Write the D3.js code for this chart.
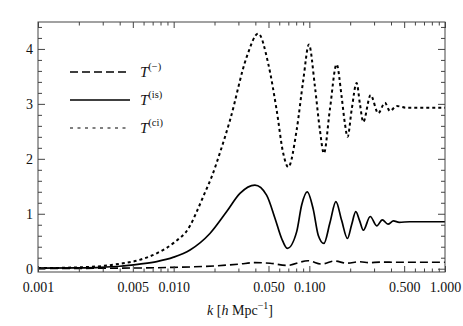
<!DOCTYPE html>
<html>
<head>
<meta charset="utf-8">
<script src="https://cdn.jsdelivr.net/npm/d3@7"></script>
<style>
  body { margin: 0; background: #fff; }
  svg { display: block; font-family: "Liberation Serif", "DejaVu Serif", serif; }
</style>
</head>
<body>
<svg width="463" height="326"></svg>
<script>
var x0 = 38,
    x1 = 445,
    y0 = 22,
    y1 = 272;

// T^(ci) : dotted
var kCi = [0.001, 0.002, 0.003, 0.004, 0.0056, 0.0075, 0.01, 0.0132, 0.0148, 0.0169, 0.01905, 0.022, 0.026,
           0.0345, 0.042, 0.0498, 0.0574, 0.0642, 0.070, 0.0806, 0.0902, 0.0993, 0.110, 0.1197, 0.128,
           0.1416, 0.1589, 0.173, 0.1829, 0.1915, 0.205, 0.2231, 0.236, 0.2497, 0.2829, 0.3219, 0.3607,
           0.3926, 0.44, 0.52, 1.0];
var tCi = [0.01, 0.025, 0.05, 0.09, 0.16, 0.28, 0.47, 0.78, 1.04, 1.37, 1.67, 2.12, 2.70,
           3.85, 4.28, 3.73, 2.89, 2.10, 1.85, 2.52, 3.43, 4.08, 3.31, 2.52, 2.10,
           2.89, 3.72, 3.13, 2.64, 2.40, 2.89, 3.38, 3.00, 2.67, 3.16, 2.83, 3.02,
           2.87, 2.96, 2.93, 2.93];

// T^(is) : solid
var kIs = [0.001, 0.002, 0.0029, 0.004, 0.0056, 0.0075, 0.01, 0.0132, 0.0185, 0.0246, 0.0308, 0.0397,
           0.0484, 0.0558, 0.0625, 0.0688, 0.0806, 0.0878, 0.0965, 0.1069, 0.1163, 0.128, 0.142, 0.157,
           0.173, 0.191, 0.205, 0.220, 0.235, 0.250, 0.281, 0.314, 0.345, 0.38, 0.417, 0.46, 0.55, 1.0];
var tIs = [0.01, 0.015, 0.025, 0.045, 0.085, 0.13, 0.21, 0.34, 0.64, 1.04, 1.37, 1.52,
           1.34, 0.92, 0.55, 0.37, 0.67, 1.16, 1.40, 1.08, 0.61, 0.46, 0.84, 1.22,
           0.88, 0.55, 0.80, 1.04, 0.87, 0.70, 0.95, 0.78, 0.89, 0.81, 0.87, 0.845, 0.855, 0.855];

// T^(-) : dashed
var kMinus = [0.001, 0.003, 0.01, 0.02, 0.0307, 0.0397, 0.0513, 0.0682, 0.098, 0.123, 0.154, 0.188,
              0.236, 0.278, 0.33, 0.5, 1.0];
var tMinus = [0.005, 0.008, 0.025, 0.05, 0.085, 0.11, 0.10, 0.06, 0.145, 0.085, 0.14, 0.10,
              0.127, 0.11, 0.12, 0.117, 0.117];

var xMajor = [0.001, 0.005, 0.01, 0.05, 0.1, 0.5, 1],
    xLabels = ['0.001', '0.005', '0.010', '0.050', '0.100', '0.500', '1.000'],
    yMajor = [0, 1, 2, 3, 4];

var xMinor = [];
[0.001, 0.01, 0.1].forEach(function(d) {
  for (var m = 2; m <= 9; m++) if (m !== 5) xMinor.push(d * m);
});
var yMinor = d3.range(1, 23).map(function(i) { return i * 0.2; })
  .filter(function(v) { return Math.abs(v - Math.round(v)) > 1e-6; });

var x = d3.scaleLog().domain([0.001, 1]).range([x0, x1]),
    y = d3.scaleLinear().domain([-0.06, 4.49]).range([y1, y0]);

var svg = d3.select('svg');

svg.append('clipPath').attr('id', 'clip')
  .append('rect').attr('x', x0).attr('y', y0).attr('width', x1 - x0).attr('height', y1 - y0);

var line = d3.line()
  .x(function(d) { return x(d[0]); })
  .y(function(d) { return y(d[1]); })
  .curve(d3.curveMonotoneX);

var series = [
  { k: kMinus, t: tMinus, dash: '8,4', w: 1.6 },
  { k: kIs,    t: tIs,    dash: null,  w: 1.7 },
  { k: kCi,    t: tCi,    dash: '3,3', w: 2.0 }
];

var plot = svg.append('g').attr('clip-path', 'url(#clip)');
series.forEach(function(s) {
  plot.append('path')
    .datum(d3.zip(s.k, s.t))
    .attr('d', line)
    .attr('fill', 'none')
    .attr('stroke', '#000')
    .attr('stroke-width', s.w)
    .attr('stroke-dasharray', s.dash);
});

// axes
function drawAxis(axis, tr, vals, size, fmt) {
  var g = svg.append('g').attr('transform', tr)
    .call(axis.tickValues(vals).tickSizeInner(-size).tickSizeOuter(0).tickPadding(6).tickFormat(fmt));
  g.select('.domain').remove();
  g.selectAll('line').attr('stroke', '#444');
  g.selectAll('text').attr('font-size', 14).attr('fill', '#111')
    .attr('font-family', '"Liberation Serif", "DejaVu Serif", serif');
  return g;
}
var none = function() { return ''; };

drawAxis(d3.axisBottom(x), 'translate(0,' + y1 + ')', xMajor, 6,
  function(d, i) { return xLabels[i]; }).selectAll('text').attr('dy', '1.0em');
drawAxis(d3.axisBottom(x), 'translate(0,' + y1 + ')', xMinor, 3.5, none);
drawAxis(d3.axisTop(x), 'translate(0,' + y0 + ')', xMajor, 6, none);
drawAxis(d3.axisTop(x), 'translate(0,' + y0 + ')', xMinor, 3.5, none);

drawAxis(d3.axisLeft(y), 'translate(' + x0 + ',0)', yMajor, 7, d3.format('d'))
  .selectAll('text').attr('x', -5);
drawAxis(d3.axisLeft(y), 'translate(' + x0 + ',0)', yMinor, 4, none);
drawAxis(d3.axisRight(y), 'translate(' + x1 + ',0)', yMajor, 7, none);
drawAxis(d3.axisRight(y), 'translate(' + x1 + ',0)', yMinor, 4, none);

svg.append('rect')
  .attr('x', x0).attr('y', y0).attr('width', x1 - x0).attr('height', y1 - y0)
  .attr('fill', 'none').attr('stroke', '#444').attr('stroke-width', 1);

// x label
var xl = svg.append('text').attr('x', 240).attr('y', 315).attr('text-anchor', 'middle')
  .attr('font-size', 14).attr('fill', '#111');
xl.append('tspan').attr('font-style', 'italic').text('k');
xl.append('tspan').text(' [');
xl.append('tspan').attr('font-style', 'italic').text('h');
xl.append('tspan').text('  Mpc');
xl.append('tspan').attr('font-size', 10).attr('dy', -6).text('\u22121');
xl.append('tspan').attr('dy', 6).text(']');

// legend
var legendNames = ['(\u2212)', '(is)', '(ci)'];
var legend = svg.append('g');
series.forEach(function(s, i) {
  var ly = 72 + i * 28;
  legend.append('line')
    .attr('x1', 70).attr('x2', 130).attr('y1', ly).attr('y2', ly)
    .attr('stroke', '#000').attr('stroke-width', i === 2 ? 1.2 : 1.4)
    .attr('stroke-dasharray', i === 0 ? '8,4' : (i === 2 ? '3,4.5' : null));
  var t = legend.append('text').attr('x', 140).attr('y', ly + 5).attr('font-size', 15).attr('fill', '#111');
  t.append('tspan').attr('font-style', 'italic').text('T');
  t.append('tspan').attr('font-size', 10.5).attr('dy', -7).text(legendNames[i]);
});
</script>
</body>
</html>
